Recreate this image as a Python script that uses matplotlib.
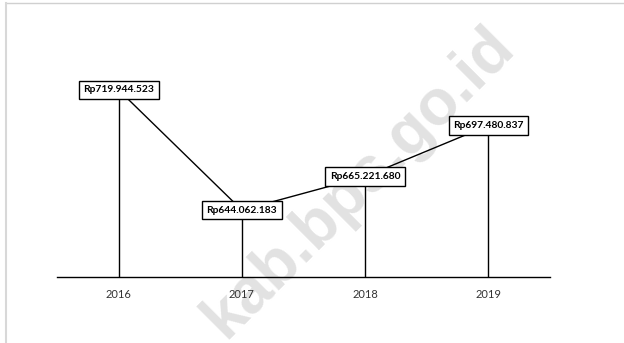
import matplotlib.pyplot as plt
from matplotlib.lines import Line2D

years = ['2016', '2017', '2018', '2019']
values = [719944523, 644062183, 665221680, 697480837]
labels = ['Rp719.944.523', 'Rp644.062.183', 'Rp665.221.680', 'Rp697.480.837']

W, H = 624, 343
fig = plt.figure(figsize=(W / 100, H / 100), dpi=100)
ax = fig.add_axes([57 / W, 66 / H, 493 / W, 247 / H])

x = list(range(len(years)))
ymin, ymax = 601.8e6, 757.8e6

# watermark behind the marks
ax.text(0.575, 0.47, 'kab.bps.go.id', fontsize=46, fontweight='bold',
        family='Liberation Sans', color='#e2e2e2', rotation=45,
        ha='center', va='center', zorder=0, transform=fig.transFigure,
        clip_on=False)

ax.vlines(x, ymin, values, color='black', lw=1, zorder=2)
ax.plot(x, values, color='black', lw=1, zorder=2)

for xi, v, lab in zip(x, values, labels):
    ax.text(xi, v, lab, ha='center', va='center', fontsize=7.4,
            family='Lato', fontweight='bold', zorder=4,
            bbox=dict(boxstyle='square,pad=0.45', fc='white', ec='black', lw=1))

ax.set_xlim(-0.5, 3.5)
ax.set_ylim(ymin, ymax)
ax.set_xticks(x)
ax.set_xticklabels(years, family='Lato', fontsize=8, color='#333333')
ax.tick_params(axis='x', length=0, pad=9)
ax.set_yticks([])
for s in ['top', 'right', 'left']:
    ax.spines[s].set_visible(False)
ax.spines['bottom'].set_linewidth(1)
ax.spines['bottom'].set_zorder(3)
ax.patch.set_alpha(0)

# thin grey frame at top and left
fig.add_artist(Line2D([6 / W, 1], [1 - 3 / H, 1 - 3 / H], color='#d0d0d0', lw=1))
fig.add_artist(Line2D([6 / W, 6 / W], [0, 1 - 3 / H], color='#d8d8d8', lw=1.5))

fig.savefig('out.png', dpi=100)
